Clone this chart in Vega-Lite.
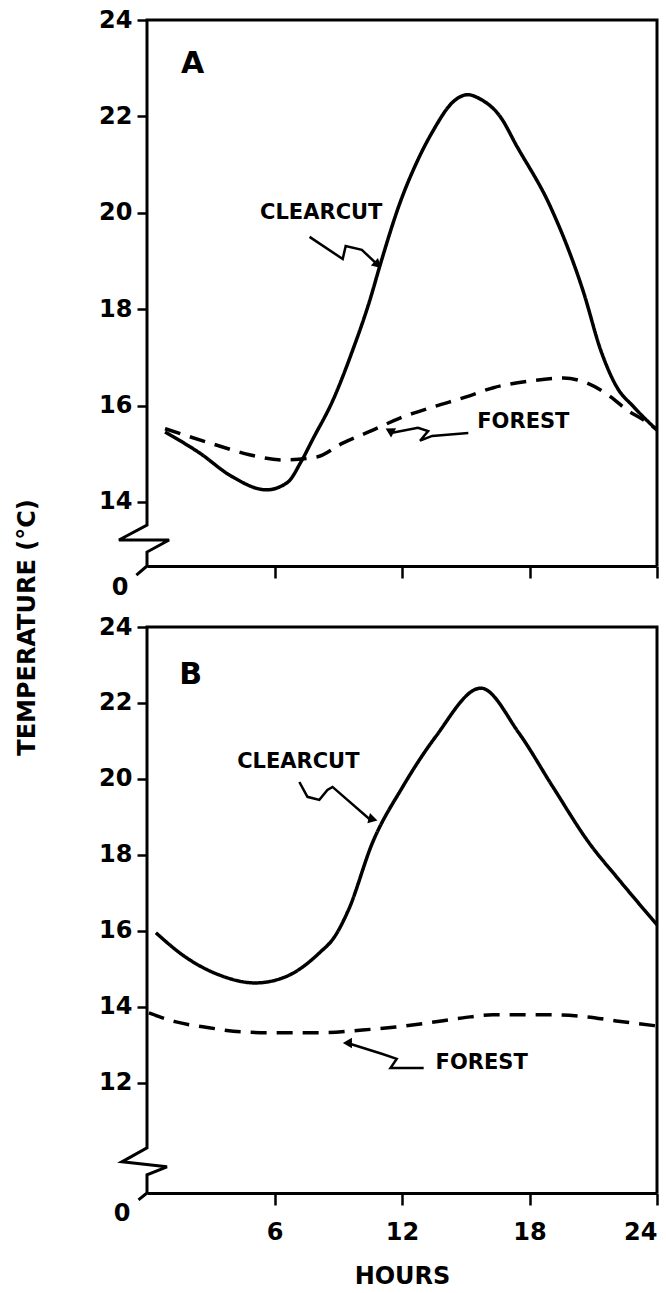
{
  "$schema": "https://vega.github.io/schema/vega-lite/v6.json",
  "padding": {"left": 14, "top": 8, "right": 0, "bottom": 0},
  "bounds": "flush",
  "spacing": 61,
  "config": {
    "view": {"stroke": null},
    "font": "DejaVu Sans",
    "axis": {
      "labelFont": "DejaVu Sans", "labelFontWeight": "bold", "labelFontSize": 24, "labelColor": "black",
      "titleFont": "DejaVu Sans", "titleFontWeight": "bold", "titleFontSize": 24, "titleColor": "black",
      "domainColor": "black", "domainWidth": 3, "tickColor": "black", "tickWidth": 2.5, "grid": false,
      "labelOverlap": false, "labelBound": false, "labelFlush": false
    }
  },
  "datasets": {
    "curves": [
      {"panel": "A", "site": "Clearcut", "hour": 0.85, "temp": 15.45},
      {"panel": "A", "site": "Clearcut", "hour": 2.46, "temp": 15.02},
      {"panel": "A", "site": "Clearcut", "hour": 4.02, "temp": 14.52},
      {"panel": "A", "site": "Clearcut", "hour": 5.62, "temp": 14.25},
      {"panel": "A", "site": "Clearcut", "hour": 6.6, "temp": 14.4},
      {"panel": "A", "site": "Clearcut", "hour": 7.27, "temp": 14.85},
      {"panel": "A", "site": "Clearcut", "hour": 7.8, "temp": 15.3},
      {"panel": "A", "site": "Clearcut", "hour": 8.74, "temp": 16.1},
      {"panel": "A", "site": "Clearcut", "hour": 9.68, "temp": 17.15},
      {"panel": "A", "site": "Clearcut", "hour": 10.49, "temp": 18.19},
      {"panel": "A", "site": "Clearcut", "hour": 10.96, "temp": 18.9},
      {"panel": "A", "site": "Clearcut", "hour": 11.9, "temp": 20.2},
      {"panel": "A", "site": "Clearcut", "hour": 12.75, "temp": 21.1},
      {"panel": "A", "site": "Clearcut", "hour": 13.46, "temp": 21.7},
      {"panel": "A", "site": "Clearcut", "hour": 14.4, "temp": 22.3},
      {"panel": "A", "site": "Clearcut", "hour": 15.1, "temp": 22.45},
      {"panel": "A", "site": "Clearcut", "hour": 15.68, "temp": 22.36},
      {"panel": "A", "site": "Clearcut", "hour": 16.63, "temp": 21.99},
      {"panel": "A", "site": "Clearcut", "hour": 17.38, "temp": 21.4},
      {"panel": "A", "site": "Clearcut", "hour": 18.99, "temp": 20.12},
      {"panel": "A", "site": "Clearcut", "hour": 20.55, "temp": 18.34},
      {"panel": "A", "site": "Clearcut", "hour": 21.35, "temp": 17.15},
      {"panel": "A", "site": "Clearcut", "hour": 22.1, "temp": 16.39},
      {"panel": "A", "site": "Clearcut", "hour": 22.91, "temp": 15.97},
      {"panel": "A", "site": "Clearcut", "hour": 24, "temp": 15.49},
      {"panel": "A", "site": "Forest", "hour": 0.85, "temp": 15.52},
      {"panel": "A", "site": "Forest", "hour": 3.26, "temp": 15.18},
      {"panel": "A", "site": "Forest", "hour": 4.82, "temp": 14.98},
      {"panel": "A", "site": "Forest", "hour": 6.38, "temp": 14.87},
      {"panel": "A", "site": "Forest", "hour": 7.98, "temp": 14.93},
      {"panel": "A", "site": "Forest", "hour": 9.21, "temp": 15.22},
      {"panel": "A", "site": "Forest", "hour": 10.63, "temp": 15.49},
      {"panel": "A", "site": "Forest", "hour": 11.9, "temp": 15.74},
      {"panel": "A", "site": "Forest", "hour": 13.46, "temp": 15.97},
      {"panel": "A", "site": "Forest", "hour": 15.02, "temp": 16.18},
      {"panel": "A", "site": "Forest", "hour": 16.3, "temp": 16.37},
      {"panel": "A", "site": "Forest", "hour": 18.04, "temp": 16.51},
      {"panel": "A", "site": "Forest", "hour": 19.6, "temp": 16.57},
      {"panel": "A", "site": "Forest", "hour": 20.69, "temp": 16.47},
      {"panel": "A", "site": "Forest", "hour": 21.82, "temp": 16.18},
      {"panel": "A", "site": "Forest", "hour": 22.58, "temp": 15.91},
      {"panel": "A", "site": "Forest", "hour": 23.3, "temp": 15.72},
      {"panel": "A", "site": "Forest", "hour": 24, "temp": 15.5},
      {"panel": "B", "site": "Clearcut", "hour": 0.42, "temp": 15.95},
      {"panel": "B", "site": "Clearcut", "hour": 1.79, "temp": 15.32},
      {"panel": "B", "site": "Clearcut", "hour": 3.4, "temp": 14.84},
      {"panel": "B", "site": "Clearcut", "hour": 5.09, "temp": 14.63},
      {"panel": "B", "site": "Clearcut", "hour": 6.51, "temp": 14.79},
      {"panel": "B", "site": "Clearcut", "hour": 8.11, "temp": 15.42},
      {"panel": "B", "site": "Clearcut", "hour": 8.82, "temp": 15.84},
      {"panel": "B", "site": "Clearcut", "hour": 9.48, "temp": 16.55},
      {"panel": "B", "site": "Clearcut", "hour": 10.61, "temp": 18.32},
      {"panel": "B", "site": "Clearcut", "hour": 12.03, "temp": 19.79},
      {"panel": "B", "site": "Clearcut", "hour": 13.58, "temp": 21.11},
      {"panel": "B", "site": "Clearcut", "hour": 15.71, "temp": 22.39},
      {"panel": "B", "site": "Clearcut", "hour": 17.5, "temp": 21.21},
      {"panel": "B", "site": "Clearcut", "hour": 19.1, "temp": 19.79},
      {"panel": "B", "site": "Clearcut", "hour": 20.8, "temp": 18.32},
      {"panel": "B", "site": "Clearcut", "hour": 22.22, "temp": 17.34},
      {"panel": "B", "site": "Clearcut", "hour": 24, "temp": 16.16},
      {"panel": "B", "site": "Forest", "hour": 0.09, "temp": 13.84},
      {"panel": "B", "site": "Forest", "hour": 1.32, "temp": 13.61},
      {"panel": "B", "site": "Forest", "hour": 2.92, "temp": 13.45},
      {"panel": "B", "site": "Forest", "hour": 4.48, "temp": 13.34},
      {"panel": "B", "site": "Forest", "hour": 6.04, "temp": 13.32},
      {"panel": "B", "site": "Forest", "hour": 8.25, "temp": 13.32},
      {"panel": "B", "site": "Forest", "hour": 10.14, "temp": 13.39},
      {"panel": "B", "site": "Forest", "hour": 11.7, "temp": 13.47},
      {"panel": "B", "site": "Forest", "hour": 13.25, "temp": 13.58},
      {"panel": "B", "site": "Forest", "hour": 14.86, "temp": 13.71},
      {"panel": "B", "site": "Forest", "hour": 16.27, "temp": 13.79},
      {"panel": "B", "site": "Forest", "hour": 17.69, "temp": 13.79},
      {"panel": "B", "site": "Forest", "hour": 19.25, "temp": 13.79},
      {"panel": "B", "site": "Forest", "hour": 20.66, "temp": 13.74},
      {"panel": "B", "site": "Forest", "hour": 22.08, "temp": 13.63},
      {"panel": "B", "site": "Forest", "hour": 23.96, "temp": 13.5}
    ],
    "frame": [
      {"panel": "A", "seq": 1, "hour": 24, "temp": 12.67},
      {"panel": "A", "seq": 2, "hour": 24, "temp": 24},
      {"panel": "A", "seq": 3, "hour": 0, "temp": 24},
      {"panel": "A", "seq": 4, "hour": 0, "temp": 13.52},
      {"panel": "A", "seq": 5, "hour": -1.32, "temp": 13.21},
      {"panel": "A", "seq": 6, "hour": 1.04, "temp": 13.21},
      {"panel": "A", "seq": 7, "hour": 0, "temp": 12.96},
      {"panel": "A", "seq": 8, "hour": 0, "temp": 12.67},
      {"panel": "A", "seq": 9, "hour": -0.5, "temp": 12.48},
      {"panel": "B", "seq": 1, "hour": 24, "temp": 9.1},
      {"panel": "B", "seq": 2, "hour": 24, "temp": 24},
      {"panel": "B", "seq": 3, "hour": 0, "temp": 24},
      {"panel": "B", "seq": 4, "hour": 0, "temp": 10.29},
      {"panel": "B", "seq": 5, "hour": -1.18, "temp": 9.92},
      {"panel": "B", "seq": 6, "hour": 0.94, "temp": 9.79},
      {"panel": "B", "seq": 7, "hour": 0, "temp": 9.58},
      {"panel": "B", "seq": 8, "hour": 0, "temp": 9.1},
      {"panel": "B", "seq": 9, "hour": -0.4, "temp": 8.92}
    ],
    "arrows": [
      {"panel": "A", "arrow": "A-clearcut", "seq": 1, "hour": 7.65, "temp": 19.5},
      {"panel": "A", "arrow": "A-clearcut", "seq": 2, "hour": 9.21, "temp": 19.04},
      {"panel": "A", "arrow": "A-clearcut", "seq": 3, "hour": 9.35, "temp": 19.31},
      {"panel": "A", "arrow": "A-clearcut", "seq": 4, "hour": 10.11, "temp": 19.23},
      {"panel": "A", "arrow": "A-clearcut", "seq": 5, "hour": 10.86, "temp": 18.92},
      {"panel": "A", "arrow": "A-forest", "seq": 1, "hour": 15.12, "temp": 15.43},
      {"panel": "A", "arrow": "A-forest", "seq": 2, "hour": 13.42, "temp": 15.37},
      {"panel": "A", "arrow": "A-forest", "seq": 3, "hour": 12.85, "temp": 15.27},
      {"panel": "A", "arrow": "A-forest", "seq": 4, "hour": 13.23, "temp": 15.47},
      {"panel": "A", "arrow": "A-forest", "seq": 5, "hour": 12.75, "temp": 15.54},
      {"panel": "A", "arrow": "A-forest", "seq": 6, "hour": 11.48, "temp": 15.43},
      {"panel": "B", "arrow": "B-clearcut", "seq": 1, "hour": 7.17, "temp": 19.92},
      {"panel": "B", "arrow": "B-clearcut", "seq": 2, "hour": 7.55, "temp": 19.53},
      {"panel": "B", "arrow": "B-clearcut", "seq": 3, "hour": 8.11, "temp": 19.45},
      {"panel": "B", "arrow": "B-clearcut", "seq": 4, "hour": 8.49, "temp": 19.71},
      {"panel": "B", "arrow": "B-clearcut", "seq": 5, "hour": 8.73, "temp": 19.79},
      {"panel": "B", "arrow": "B-clearcut", "seq": 6, "hour": 10.52, "temp": 18.92},
      {"panel": "B", "arrow": "B-forest", "seq": 1, "hour": 13.02, "temp": 12.39},
      {"panel": "B", "arrow": "B-forest", "seq": 2, "hour": 11.46, "temp": 12.39},
      {"panel": "B", "arrow": "B-forest", "seq": 3, "hour": 11.75, "temp": 12.63},
      {"panel": "B", "arrow": "B-forest", "seq": 4, "hour": 11.08, "temp": 12.76},
      {"panel": "B", "arrow": "B-forest", "seq": 5, "hour": 9.43, "temp": 13.05}
    ],
    "heads": [
      {"panel": "A", "arrow": "A-clearcut", "hour": 10.86, "temp": 18.92},
      {"panel": "A", "arrow": "A-forest", "hour": 11.48, "temp": 15.43},
      {"panel": "B", "arrow": "B-clearcut", "hour": 10.52, "temp": 18.92},
      {"panel": "B", "arrow": "B-forest", "hour": 9.43, "temp": 13.05}
    ],
    "notes": [
      {"panel": "A", "kind": "label", "text": "CLEARCUT", "hour": 8.2, "temp": 20.0},
      {"panel": "A", "kind": "label", "text": "FOREST", "hour": 17.71, "temp": 15.66},
      {"panel": "A", "kind": "letter", "text": "A", "hour": 2.15, "temp": 23.09},
      {"panel": "B", "kind": "label", "text": "CLEARCUT", "hour": 7.12, "temp": 20.45},
      {"panel": "B", "kind": "label", "text": "FOREST", "hour": 15.75, "temp": 12.53},
      {"panel": "B", "kind": "letter", "text": "B", "hour": 2.05, "temp": 22.74}
    ]
  },
  "vconcat": [
    {
      "width": 510,
      "height": 546,
      "encoding": {
        "x": {"field": "hour", "type": "quantitative",
              "scale": {"domain": [0, 24], "nice": false, "zero": false},
              "axis": {"values": [6, 12, 18, 24], "labels": false, "title": null, "tickSize": 12}},
        "y": {"field": "temp", "type": "quantitative",
              "scale": {"domain": [12.67, 24], "nice": false, "zero": false},
              "axis": {"values": [12.67, 14, 16, 18, 20, 22, 24], "format": "d",
                       "labelExpr": "datum.value < 13 ? '0' : datum.label",
                       "domain": false, "title": null,
                       "tickSize": {"condition": {"test": "datum.value < 13", "value": 0}, "value": 10},
                       "labelOffset": {"condition": {"test": "datum.value < 13", "value": 21}, "value": 0},
                       "labelPadding": {"condition": {"test": "datum.value < 13", "value": 19}, "value": 5}}}
      },
      "layer": [
        {"data": {"name": "frame"}, "transform": [{"filter": "datum.panel == 'A'"}],
         "mark": {"type": "line", "color": "black", "strokeWidth": 3, "clip": false},
         "encoding": {"order": {"field": "seq", "type": "quantitative"}}},
        {"data": {"name": "curves"}, "transform": [{"filter": "datum.panel == 'A'"}],
         "mark": {"type": "line", "color": "black", "strokeWidth": 3.5, "interpolate": "monotone"},
         "encoding": {"strokeDash": {"field": "site", "type": "nominal",
                      "scale": {"domain": ["Clearcut", "Forest"], "range": [[1, 0], [16, 10]]}, "legend": null}}},
        {"data": {"name": "arrows"}, "transform": [{"filter": "datum.panel == 'A'"}],
         "mark": {"type": "line", "color": "black", "strokeWidth": 2.5},
         "encoding": {"detail": {"field": "arrow", "type": "nominal"}, "order": {"field": "seq", "type": "quantitative"}}},
        {"data": {"name": "heads"}, "transform": [{"filter": "datum.panel == 'A'"}],
         "mark": {"type": "point", "shape": "triangle-right", "filled": true, "color": "black", "opacity": 1, "size": 110},
         "encoding": {"angle": {"field": "arrow", "type": "ordinal",
                      "scale": {"domain": ["A-clearcut", "A-forest", "B-clearcut", "B-forest"], "range": [43, 180, 41, 197]}, "legend": null}}},
        {"data": {"name": "notes"}, "transform": [{"filter": "datum.panel == 'A' && datum.kind == 'label'"}],
         "mark": {"type": "text", "font": "DejaVu Sans", "fontWeight": "bold", "fontSize": 21, "color": "black"},
         "encoding": {"text": {"field": "text"}}},
        {"data": {"name": "notes"}, "transform": [{"filter": "datum.panel == 'A' && datum.kind == 'letter'"}],
         "mark": {"type": "text", "font": "DejaVu Sans", "fontWeight": "bold", "fontSize": 30, "color": "black"},
         "encoding": {"text": {"field": "text"}}}
      ]
    },
    {
      "width": 510,
      "height": 566,
      "encoding": {
        "x": {"field": "hour", "type": "quantitative",
              "scale": {"domain": [0, 24], "nice": false, "zero": false},
              "axis": {"values": [6, 12, 18, 24], "format": "d", "title": "HOURS", "tickSize": 12,
                       "labelPadding": 15, "titlePadding": 20, "labelFlush": true}},
        "y": {"field": "temp", "type": "quantitative",
              "scale": {"domain": [9.1, 24], "nice": false, "zero": false},
              "axis": {"values": [9.1, 12, 14, 16, 18, 20, 22, 24], "format": "d",
                       "labelExpr": "datum.value < 10 ? '0' : datum.label",
                       "domain": false,
                       "title": "TEMPERATURE (°C)", "titleX": -120, "titleY": 0, "titleAngle": 270,
                       "titleAlign": "center", "titleBaseline": "middle",
                       "tickSize": {"condition": {"test": "datum.value < 10", "value": 0}, "value": 10},
                       "labelOffset": {"condition": {"test": "datum.value < 10", "value": 20}, "value": 0},
                       "labelPadding": {"condition": {"test": "datum.value < 10", "value": 17}, "value": 5}}}
      },
      "layer": [
        {"data": {"name": "frame"}, "transform": [{"filter": "datum.panel == 'B'"}],
         "mark": {"type": "line", "color": "black", "strokeWidth": 3, "clip": false},
         "encoding": {"order": {"field": "seq", "type": "quantitative"}}},
        {"data": {"name": "curves"}, "transform": [{"filter": "datum.panel == 'B'"}],
         "mark": {"type": "line", "color": "black", "strokeWidth": 3.5, "interpolate": "monotone"},
         "encoding": {"strokeDash": {"field": "site", "type": "nominal",
                      "scale": {"domain": ["Clearcut", "Forest"], "range": [[1, 0], [16, 10]]}, "legend": null}}},
        {"data": {"name": "arrows"}, "transform": [{"filter": "datum.panel == 'B'"}],
         "mark": {"type": "line", "color": "black", "strokeWidth": 2.5},
         "encoding": {"detail": {"field": "arrow", "type": "nominal"}, "order": {"field": "seq", "type": "quantitative"}}},
        {"data": {"name": "heads"}, "transform": [{"filter": "datum.panel == 'B'"}],
         "mark": {"type": "point", "shape": "triangle-right", "filled": true, "color": "black", "opacity": 1, "size": 110},
         "encoding": {"angle": {"field": "arrow", "type": "ordinal",
                      "scale": {"domain": ["A-clearcut", "A-forest", "B-clearcut", "B-forest"], "range": [43, 180, 41, 197]}, "legend": null}}},
        {"data": {"name": "notes"}, "transform": [{"filter": "datum.panel == 'B' && datum.kind == 'label'"}],
         "mark": {"type": "text", "font": "DejaVu Sans", "fontWeight": "bold", "fontSize": 21, "color": "black"},
         "encoding": {"text": {"field": "text"}}},
        {"data": {"name": "notes"}, "transform": [{"filter": "datum.panel == 'B' && datum.kind == 'letter'"}],
         "mark": {"type": "text", "font": "DejaVu Sans", "fontWeight": "bold", "fontSize": 30, "color": "black"},
         "encoding": {"text": {"field": "text"}}}
      ]
    }
  ]
}
